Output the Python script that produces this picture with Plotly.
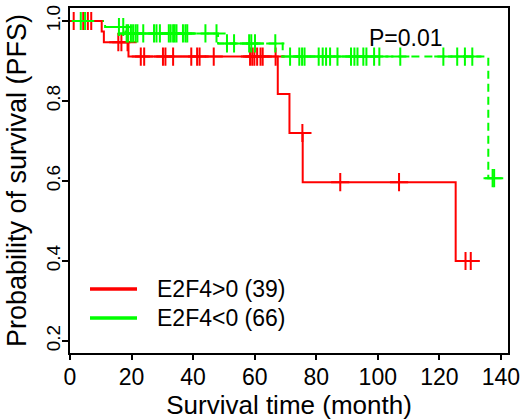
import numpy as np
import plotly.graph_objects as go

# ---- data (Kaplan-Meier PFS curves) ----
red_name = "E2F4>0 (39)"
red_times = [0, 10.3, 11.0, 19.0, 67.5, 71.3, 75.6, 125.3]
red_surv = [1.0, 0.974, 0.947, 0.911, 0.8175, 0.72, 0.597, 0.40]
red_end = 130.2
red_censor = [1.2, 4.3, 5.8, 6.9, 15.7, 16.7, 18.7, 23.0, 24.1, 30.2, 31.0,
              33.5, 39.4, 41.3, 42.1, 46.7, 58.5, 59.2, 59.9, 60.8, 61.9,
              62.6, 66.8, 75.5, 87.8, 106.9, 128.5, 130.2]

green_name = "E2F4<0 (66)"
green_times = [0, 11.4, 18.0, 48.1, 69.1, 135.9]
green_surv = [1.0, 0.985, 0.969, 0.944, 0.911, 0.607]
green_end = 137.8
green_censor = [3.5, 4.9, 15.9, 17.3, 18.4, 18.9, 19.8, 20.5, 21.3, 21.9,
                23.8, 27.3, 28.1, 29.2, 32.1, 32.7, 33.5, 34.0, 34.6, 36.7,
                37.5, 38.1, 44.0, 47.6, 51.0, 53.3, 58.2, 58.9, 60.1, 66.7,
                71.5, 74.5, 75.4, 76.2, 80.8, 82.1, 83.2, 84.5, 86.9, 91.3,
                92.4, 93.4, 95.3, 96.3, 98.8, 100.5, 107.3, 121.3, 125.8,
                128.3, 130.7, 137.3, 137.8]

x_ticks = [0, 20, 40, 60, 80, 100, 120, 140]
y_ticks = [0.2, 0.4, 0.6, 0.8, 1.0]
p_text = "P=0.01"

RED = "#FF0000"
GREEN = "#00FF00"
FONT = "Liberation Sans, Arial, sans-serif"


def step_xy(times, surv, end):
    return list(times) + [end], list(surv) + [surv[-1]]


def surv_at(times, surv, t):
    idx = np.searchsorted(np.asarray(times), np.asarray(t), side="right") - 1
    return np.asarray(surv)[idx]


fig = go.Figure()

gx, gy = step_xy(green_times, green_surv, green_end)
rx, ry = step_xy(red_times, red_surv, red_end)

fig.add_trace(go.Scatter(x=gx, y=gy, mode="lines", line_shape="hv",
                         line=dict(color=GREEN, width=2, dash="8px,5px"),
                         name=green_name, showlegend=False, hoverinfo="skip"))
fig.add_trace(go.Scatter(x=rx, y=ry, mode="lines", line_shape="hv",
                         line=dict(color=RED, width=2),
                         name=red_name, showlegend=False, hoverinfo="skip"))
fig.add_trace(go.Scatter(x=red_censor, y=surv_at(red_times, red_surv, red_censor),
                         mode="markers",
                         marker=dict(symbol="cross-thin", size=13, color=RED,
                                     line=dict(width=2, color=RED)),
                         showlegend=False, hoverinfo="skip"))
fig.add_trace(go.Scatter(x=green_censor, y=surv_at(green_times, green_surv, green_censor),
                         mode="markers",
                         marker=dict(symbol="cross-thin", size=13, color=GREEN,
                                     line=dict(width=2, color=GREEN)),
                         showlegend=False, hoverinfo="skip"))

# manual legend (paper coords)
def px2paper_x(px):
    return (px - 70) / 438.0


def px2paper_y(py):
    return (353 - py) / 345.0


for name, col, py in [(red_name, RED, 289), (green_name, GREEN, 318)]:
    fig.add_shape(type="line", xref="paper", yref="paper",
                  x0=px2paper_x(90), x1=px2paper_x(137),
                  y0=px2paper_y(py), y1=px2paper_y(py),
                  line=dict(color=col, width=3.5))
    fig.add_annotation(text=name, xref="paper", yref="paper",
                       x=px2paper_x(155), y=px2paper_y(py),
                       xanchor="left", yanchor="middle", showarrow=False,
                       font=dict(size=23, color="black", family=FONT))

fig.add_annotation(text=p_text, x=109.3, y=0.957, xref="x", yref="y",
                   xanchor="center", yanchor="middle", showarrow=False,
                   font=dict(size=23, color="black", family=FONT))

fig.update_layout(
    width=527, height=420,
    margin=dict(l=70, r=19, t=8, b=67),
    paper_bgcolor="white", plot_bgcolor="white",
    font=dict(family=FONT, color="black"),
)
fig.update_xaxes(range=[0, 142.3], tickvals=x_ticks,
                 ticktext=[str(v) for v in x_ticks],
                 ticks="outside", ticklen=5, tickwidth=1.5, tickcolor="black",
                 ticklabelstandoff=-3,
                 showline=True, linecolor="black", linewidth=2, mirror=True,
                 showgrid=False, zeroline=False, automargin=False,
                 tickfont=dict(size=23, family=FONT, color="black"),
                 title=dict(text="Survival time (month)", standoff=4,
                            font=dict(size=26, family=FONT, color="black")))
fig.update_yaxes(range=[0.17, 1.0325], tickvals=y_ticks,
                 ticktext=["%.1f" % v for v in y_ticks],
                 ticks="outside", ticklen=6, tickwidth=1.5, tickcolor="black",
                 tickangle=-90, automargin=False, ticklabelstandoff=-6,
                 showline=True, linecolor="black", linewidth=2, mirror=True,
                 showgrid=False, zeroline=False,
                 tickfont=dict(size=19, family=FONT, color="black"),
                 title=dict(text="Probability of survival (PFS)", standoff=9,
                            font=dict(size=27, family=FONT, color="black")))

fig.write_html("out.html",
               config={"displayModeBar": False},
               post_script="document.body.style.margin='0px';"
                           "document.body.style.padding='0px';"
                           "document.body.style.overflow='hidden';")
